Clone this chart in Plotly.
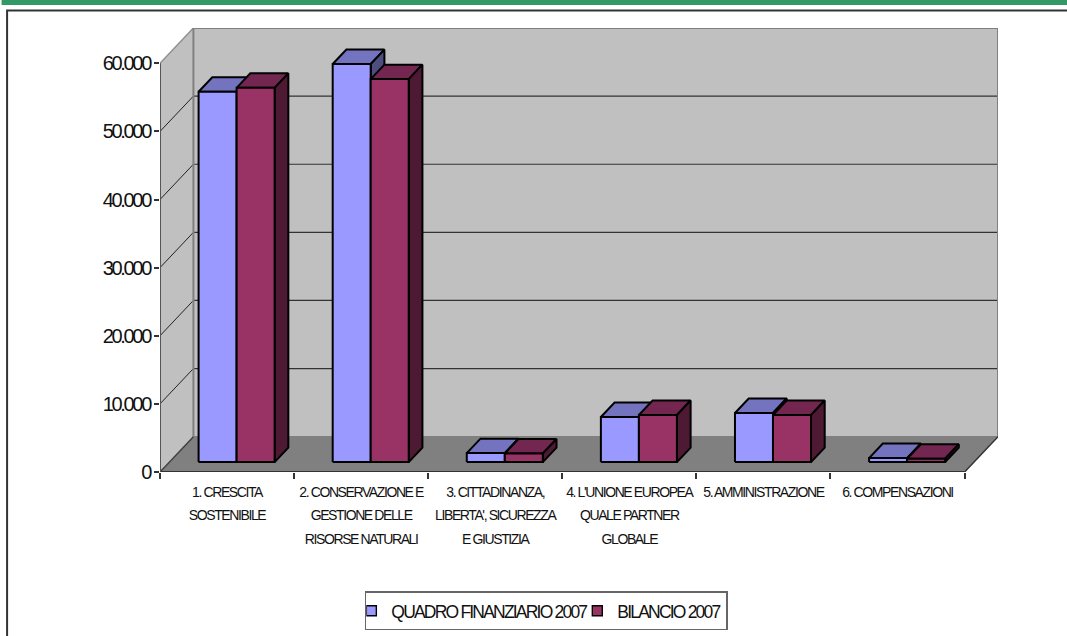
import plotly.graph_objects as go

category_lines = [
    ["1. CRESCITA", "SOSTENIBILE"],
    ["2. CONSERVAZIONE E", "GESTIONE DELLE", "RISORSE NATURALI"],
    ["3. CITTADINANZA,", "LIBERTA', SICUREZZA", "E GIUSTIZIA"],
    ["4. L'UNIONE EUROPEA", "QUALE PARTNER", "GLOBALE"],
    ["5. AMMINISTRAZIONE"],
    ["6. COMPENSAZIONI"],
]
quadro_finanziario = [54370, 58440, 1320, 6620, 7210, 590]
bilancio = [54950, 56230, 1270, 6910, 6910, 500]
value_ticks = [0, 10000, 20000, 30000, 40000, 50000, 60000]
value_labels = ["0", "10.000", "20.000", "30.000", "40.000", "50.000", "60.000"]
series_names = ["QUADRO FINANZIARIO 2007", "BILANCIO 2007"]

W, H = 1067, 636
L, R, T, B = 160.3, 997.7, 28.0, 471.7
CAT_PX = 134.0
VAL_PX = (B - 63.3) / 60000
DEPTH_X = (R - L - 6 * CAT_PX) / CAT_PX
DEPTH_Y = (63.3 - T) / VAL_PX
N = len(category_lines)
SANS = "Liberation Sans, Arial, sans-serif"


def pr(cat, val, depth):
    return cat + depth * DEPTH_X, val + depth * DEPTH_Y


def px(x):
    return (x - L) / (R - L)


def py(y):
    return (B - y) / (B - T)


def squeeze(text, size, spacing):
    return f'<span style="font-size:{size}px;letter-spacing:{spacing}px">{text}</span>'


def poly(points, fill, line="rgba(0,0,0,0)", width=0):
    xs, ys = [], []
    for p in points:
        x, y = pr(*p)
        xs.append(x)
        ys.append(y)
    xs.append(xs[0])
    ys.append(ys[0])
    return go.Scatter(x=xs, y=ys, mode="lines", fill="toself", fillcolor=fill,
                      line=dict(color=line, width=width), showlegend=False,
                      hoverinfo="skip", cliponaxis=False)


def seg(p0, p1, color, width):
    x0, y0 = pr(*p0)
    x1, y1 = pr(*p1)
    return go.Scatter(x=[x0, x1], y=[y0, y1], mode="lines",
                      line=dict(color=color, width=width), showlegend=False,
                      hoverinfo="skip", cliponaxis=False)


fig = go.Figure()
TOP = value_ticks[-1]

# walls and floor
fig.add_trace(poly([(0, 0, 0), (0, 0, 1), (0, TOP, 1), (0, TOP, 0)], "#c0c0c0"))
fig.add_trace(poly([(0, 0, 1), (N, 0, 1), (N, TOP, 1), (0, TOP, 1)], "#c0c0c0"))
fig.add_trace(poly([(0, 0, 0), (N, 0, 0), (N, 0, 1), (0, 0, 1)], "#808080"))

# gridlines
for v in value_ticks[1:-1]:
    fig.add_trace(seg((0, v, 0), (0, v, 1), "#222222", 1))
    fig.add_trace(seg((0, v, 1), (N, v, 1), "#333333", 1.2))

# wall edges
fig.add_trace(seg((0, TOP, 0), (0, TOP, 1), "#909090", 1.5))
fig.add_trace(seg((0, TOP, 1), (N, TOP, 1), "#808080", 2))
fig.add_trace(seg((N, TOP, 1), (N, 0, 1), "#808080", 2))
fig.add_trace(seg((0, 0, 1), (0, TOP, 1), "#808080", 2))
fig.add_trace(seg((0, 0, 1), (N, 0, 1), "#808080", 1.5))
fig.add_trace(seg((0, 0, 0), (0, 0, 1), "#404040", 1.5))
fig.add_trace(seg((N, 0, 0), (N, 0, 1), "#333333", 1.5))

# bars
GAP = 0.218
BW = 0.2835
D0, D1 = 0.28, 0.69
series_colors = [
    ("#9999ff", "#7373bf", "#4d4d80"),
    ("#993366", "#732650", "#4d1933"),
]
for s, values in enumerate([quadro_finanziario, bilancio]):
    front, top, side = series_colors[s]
    for i, v in enumerate(values):
        x0 = i + GAP + s * BW
        x1 = x0 + BW
        fig.add_trace(poly([(x0, v, D0), (x1, v, D0), (x1, v, D1), (x0, v, D1)], top, "#000000", 2))
        fig.add_trace(poly([(x1, 0, D0), (x1, 0, D1), (x1, v, D1), (x1, v, D0)], side, "#000000", 2))
        fig.add_trace(poly([(x0, 0, D0), (x1, 0, D0), (x1, v, D0), (x0, v, D0)], front, "#000000", 2))

# axis lines
fig.add_trace(seg((0, 0, 0), (N, 0, 0), "#333333", 2))
fig.add_trace(seg((0, 0, 0), (0, TOP, 0), "#555555", 2))

# legend entries
for s, name in enumerate(series_names):
    fig.add_trace(go.Scatter(x=[None], y=[None], mode="markers",
                             name=squeeze(name, 17.5, -1.8),
                             marker=dict(symbol="square", size=10, color=series_colors[s][0],
                                         line=dict(color="#000000", width=1.4))))
fig.add_trace(go.Scatter(x=[0, N], y=[0, 0], xaxis="x2", mode="lines", showlegend=False,
                         hoverinfo="skip", line=dict(color="rgba(0,0,0,0)")))

tick_text = ["<br>".join(squeeze(t, 14, -1.4) for t in lines) for lines in category_lines]
x_range = [0, (R - L) / CAT_PX]
fig.update_layout(
    width=W, height=H, autosize=False,
    margin=dict(l=L, r=W - R, t=T, b=H - B, pad=0, autoexpand=False),
    paper_bgcolor="#ffffff", plot_bgcolor="#ffffff",
    font=dict(family=SANS, color="#111111"),
    xaxis=dict(range=x_range, tickmode="array", tickvals=[i + 0.5 for i in range(N)],
               ticktext=tick_text, ticks="", showgrid=False, zeroline=False, showline=False,
               tickangle=0, tickfont=dict(size=18, family=SANS, color="#111111"), ticklabelstandoff=6),
    xaxis2=dict(range=x_range, overlaying="x", side="bottom", tickmode="array",
                tickvals=list(range(N + 1)), ticktext=[""] * (N + 1), ticks="outside", ticklen=6,
                tickwidth=1.5, tickcolor="#333333", showgrid=False, zeroline=False, showline=False),
    yaxis=dict(range=[0, TOP + DEPTH_Y], tickmode="array", tickvals=value_ticks,
               ticktext=[squeeze(t, 20, -2.3) for t in value_labels],
               ticks="outside", ticklen=5, tickwidth=1.5, tickcolor="#333333", showgrid=False,
               zeroline=False, showline=False, tickfont=dict(size=20, family=SANS, color="#111111")),
    legend=dict(orientation="h", x=px(365), y=py(591), xanchor="left", yanchor="top",
                bgcolor="#ffffff", bordercolor="#666666", borderwidth=1.5, indentation=-15,
                font=dict(size=17.5, family=SANS, color="#111111"), itemclick=False,
                itemdoubleclick=False),
    shapes=[
        dict(type="rect", xref="paper", yref="paper", x0=px(2), x1=px(1080), y0=py(-5), y1=py(5),
             fillcolor="#339966", line=dict(width=0), layer="below"),
        dict(type="rect", xref="paper", yref="paper", x0=px(7.5), x1=px(1085), y0=py(10.5), y1=py(660),
             fillcolor="rgba(0,0,0,0)", line=dict(color="#333333", width=2), layer="below"),
    ],
)
fig.write_html("out.html", config={"displayModeBar": False},
               post_script="document.body.style.margin='0';")
